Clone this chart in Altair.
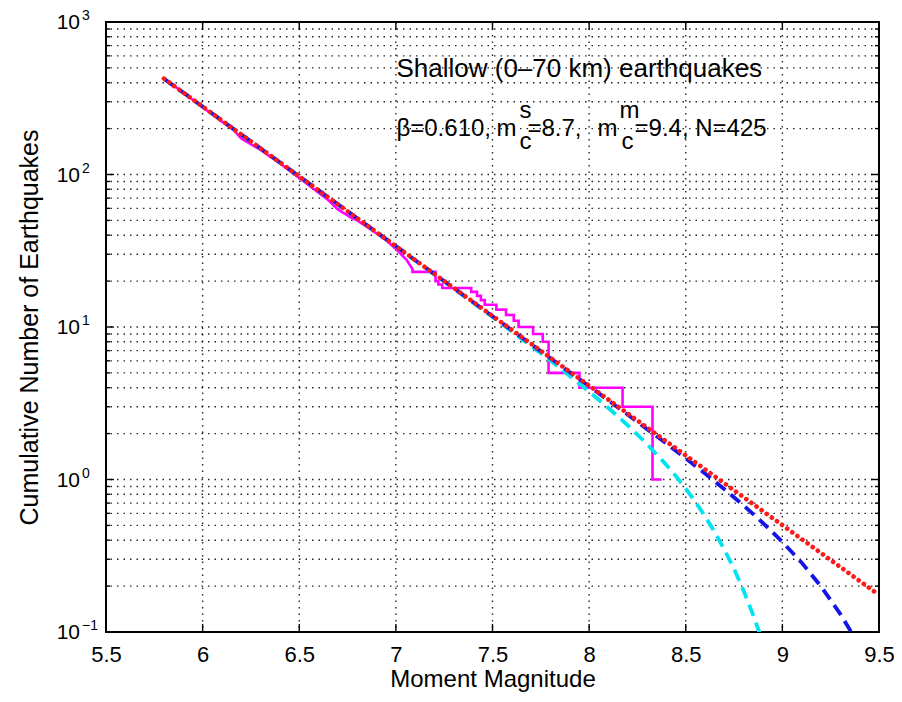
import altair as alt
import pandas as pd

# ---------------- data ----------------
# Empirical cumulative number of earthquakes (magenta staircase)
emp_mag = [5.80, 5.90, 6.00, 6.10, 6.16, 6.20, 6.26, 6.30, 6.40, 6.50,
           6.60, 6.65, 6.70, 6.77, 6.80, 6.90, 6.95, 7.00, 7.055, 7.086,
           7.086, 7.205, 7.205, 7.22, 7.22, 7.24, 7.24, 7.39, 7.39, 7.42,
           7.42, 7.44, 7.44, 7.46, 7.46, 7.52, 7.52, 7.57, 7.57, 7.61,
           7.61, 7.635, 7.635, 7.71, 7.71, 7.76, 7.76, 7.79, 7.79, 7.95,
           7.95, 8.173, 8.173, 8.328, 8.328, 8.375]
emp_cnt = [425, 345, 276, 222, 196, 172, 155, 145, 118, 95,
           76, 68, 59, 52, 50, 41, 37, 32.5, 27.6, 24,
           23, 23, 20, 20, 19, 19, 18, 18, 17, 17,
           16, 16, 15, 15, 14, 14, 13, 13, 12, 12,
           11, 11, 10, 10, 9, 9, 8, 8, 5, 5,
           4, 4, 3, 3, 1, 1]

# Tapered curve, corner magnitude m_c^s = 8.7 (cyan dashed)
cs_mag = [5.80, 7.00, 7.50, 7.80, 7.90, 8.00, 8.10, 8.20, 8.30, 8.40, 8.45,
          8.50, 8.55, 8.60, 8.65, 8.70, 8.75, 8.80, 8.85, 8.88, 8.90]
cs_cnt = [425, 33.8, 11.63, 6.02, 4.78, 3.77, 2.945, 2.265, 1.706, 1.245, 1.048,
          0.871, 0.714, 0.574, 0.452, 0.347, 0.259, 0.186, 0.128, 0.100, 0.084]

# Tapered curve, corner magnitude m_c^m = 9.4 (blue dashed)
cm_mag = [5.80, 7.00, 8.00, 8.20, 8.40, 8.50, 8.60, 8.70, 8.80, 8.90,
          9.00, 9.10, 9.20, 9.30, 9.35, 9.40]
cm_cnt = [425, 33.9, 4.09, 2.66, 1.72, 1.375, 1.094, 0.863, 0.674, 0.518,
          0.390, 0.285, 0.199, 0.131, 0.103, 0.0795]

# Plain Gutenberg-Richter line (red dotted)
gr_mag = [5.80, 9.50]
gr_cnt = [425, 0.175]

# Axis ticks / labels
x_ticks = [5.5, 6, 6.5, 7, 7.5, 8, 8.5, 9, 9.5]
y_decades = [0.1, 1, 10, 100, 1000]
y_exponents = ["\u22121", "0", "1", "2", "3"]
y_minor = [k * 10.0 ** e for e in range(-1, 3) for k in range(2, 10)]

# Annotations
ann1_text = ["Shallow (0\u201370 km) earthquakes"]
ann1_mag = [7.003]
ann1_cnt = [437]
ann2_text = ["\u03b2=0.610,", "m", "s", "c", "=8.7,", "m", "m", "c", "=9.4, N=425"]
ann2_mag = [7.003, 7.521, 7.640, 7.640, 7.681, 8.043, 8.157, 8.167, 8.235]
ann2_cnt = [179.7, 179.7, 236, 146, 179.7, 179.7, 236, 146, 179.7]

# ---------------- chart ----------------
W, H = 773, 610
FONT = "Liberation Sans"

xs = alt.Scale(domain=[5.5, 9.5], nice=False, zero=False)
ys = alt.Scale(type="log", domain=[0.1, 1000], nice=False)

x_axis = alt.Axis(values=x_ticks, format=".1~f", ticks=False, domain=False, grid=False,
                  labelFont=FONT, labelFontSize=22, labelColor="black", labelPadding=12,
                  labelFlush=False, labelOverlap=False,
                  title="Moment Magnitude", titleFont=FONT, titleFontSize=24,
                  titleFontWeight="normal", titleColor="black",
                  titleBaseline="alphabetic", titleY=54)
y_axis = alt.Axis(labels=False, ticks=False, domain=False, grid=False,
                  title="Cumulative Number of Earthquakes", titleFont=FONT,
                  titleFontSize=25, titleFontWeight="normal", titleColor="black",
                  titleBaseline="alphabetic", titleX=-69, titleY=H / 2)


def X(field):
    return alt.X(field, scale=xs, axis=x_axis)


def Y(field):
    return alt.Y(field, scale=ys, axis=y_axis)


def series(ms, ns):
    return pd.DataFrame({"m": ms, "n": ns, "i": list(range(len(ms)))})


GRID = dict(color="#000000", strokeWidth=1.4, strokeDash=[1.5, 5], opacity=0.85)

grid_x = alt.Chart(pd.DataFrame({"v": x_ticks[1:-1]})).mark_rule(**GRID).encode(x=X("v:Q"))
grid_y = alt.Chart(pd.DataFrame({"v": y_minor + [1, 10, 100]})).mark_rule(**GRID).encode(y=Y("v:Q"))

TICK = dict(color="black", strokeWidth=1.4)
xt = pd.DataFrame({"v": x_ticks[1:-1]})
yt_major = pd.DataFrame({"v": [1, 10, 100]})
yt_minor = pd.DataFrame({"v": y_minor})

ticks = []
for y0, y1 in [(H, H - 8), (0, 8)]:
    ticks.append(alt.Chart(xt).mark_rule(**TICK).encode(
        x=X("v:Q"), y=alt.value(y0), y2=alt.value(y1)))
for df, ln in [(yt_major, 8), (yt_minor, 4)]:
    for x0, x1 in [(0, ln), (W, W - ln)]:
        ticks.append(alt.Chart(df).mark_rule(**TICK).encode(
            y=Y("v:Q"), x=alt.value(x0), x2=alt.value(x1)))


def line(df, **kw):
    return alt.Chart(df).mark_line(clip=True, **kw).encode(
        x=X("m:Q"), y=Y("n:Q"), order="i:Q")


emp = line(series(emp_mag, emp_cnt), color="#ff00ff", strokeWidth=2.6)
cyan = line(series(cs_mag, cs_cnt), color="#00e3f0", strokeWidth=3.8, strokeDash=[12, 7])
blue = line(series(cm_mag, cm_cnt), color="#1414e6", strokeWidth=3.8, strokeDash=[12, 7])
red = line(series(gr_mag, gr_cnt), color="#ff1a1a", strokeWidth=4.6, strokeDash=[0.1, 6.2],
           strokeCap="round")

ylab = pd.DataFrame({"v": y_decades, "e": y_exponents})
lab10 = alt.Chart(ylab).mark_text(align="right", baseline="middle", font=FONT, fontSize=21,
                                  color="black", dy=1).encode(
    y=Y("v:Q"), x=alt.value(-26), text=alt.value("10"))
labexp = alt.Chart(ylab).mark_text(align="left", baseline="middle", font=FONT, fontSize=14,
                                   color="black", dy=-6).encode(
    y=Y("v:Q"), x=alt.value(-24), text="e:N")

a1 = alt.Chart(pd.DataFrame({"t": ann1_text, "m": ann1_mag, "n": ann1_cnt})).mark_text(
    align="left", baseline="alphabetic", font=FONT, fontSize=26, color="black").encode(
    x=X("m:Q"), y=Y("n:Q"), text="t:N")
a2 = alt.Chart(pd.DataFrame({"t": ann2_text, "m": ann2_mag, "n": ann2_cnt})).mark_text(
    align="left", baseline="alphabetic", font=FONT, fontSize=24, color="black").encode(
    x=X("m:Q"), y=Y("n:Q"), text="t:N")

chart = alt.layer(grid_x, grid_y, *ticks, emp, cyan, blue, red, a1, a2, lab10, labexp).properties(
    width=W, height=H,
    autosize=alt.AutoSizeParams(type="none"),
    padding={"left": 98, "top": 14, "right": 15, "bottom": 62},
).configure(background="white").configure_view(stroke="black", strokeWidth=2)

chart.save("out.html", embed_options={"renderer": "svg", "actions": False})
